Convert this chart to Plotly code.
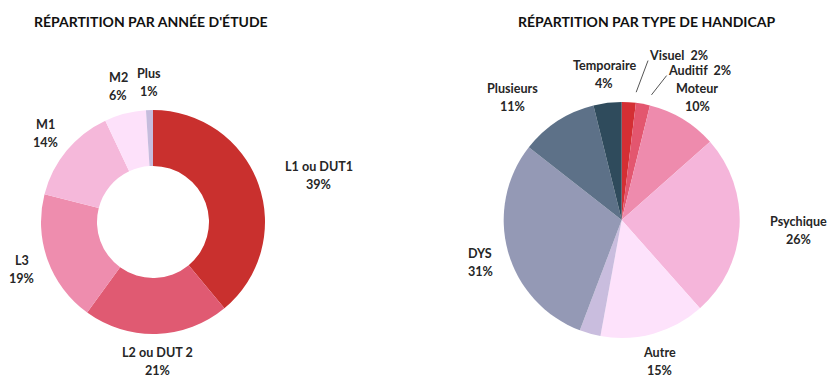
import math
import plotly.graph_objects as go

W, H = 829, 377

# ---- data ---------------------------------------------------------------
annee_labels = ["L1 ou DUT1", "L2 ou DUT 2", "L3", "M1", "M2", "Plus"]
annee_values = [39, 21, 19, 14, 6, 1]
annee_colors = ["#C9302E", "#E05A72", "#EE8DAE", "#F5B8DA", "#FDE1FA", "#C6BCDD"]

handicap_labels = ["Visuel", "Auditif", "Moteur", "Psychique", "Autre", "",
                   "DYS", "Plusieurs", "Temporaire"]
handicap_values = [2, 2, 10, 26, 15, 3, 31, 11, 4]
handicap_colors = ["#D42F34", "#E3566F", "#EE8BAD", "#F5B5DA", "#FDE2FB",
                   "#C9BDDE", "#9499B5", "#5D7188", "#2F4B5C"]

# ---- layout of the two pies (pixels) -------------------------------------
LEFT = dict(cx=153, cy=222, r=112)
RIGHT = dict(cx=621.7, cy=220, r=118)

# label placement: (radial factor, angle shift in degrees) per slice
annee_label_pos = [(1.54, 4), (1.245, 0), (1.245, 0), (1.245, 0), (1.245, 0), (1.25, 0)]
handicap_label_pos = [(1.41, 5.3), (1.32, 6.0), (1.22, 0.5), (1.505, 0), (1.24, 0.7),
                      None, (1.25, -1), (1.39, -9), (1.24, 0)]
# slices whose label sits away from the pie with a leader line
leader_slices = {0, 1}

LABEL_FONT = dict(family="Lato", size=12.6, color="#262626")
TITLE_FONT = dict(family="Lato", size=14, color="#111111")


def paper(x, y):
    return x / W, 1 - y / H


def domain(g):
    x0, y1 = paper(g["cx"] - g["r"], g["cy"] - g["r"])
    x1, y0 = paper(g["cx"] + g["r"], g["cy"] + g["r"])
    return dict(x=[x0, x1], y=[y0, y1])


def polar(g, angle_deg, factor):
    a = math.radians(angle_deg)
    return (g["cx"] + factor * g["r"] * math.sin(a),
            g["cy"] - factor * g["r"] * math.cos(a))


def mid_angles(values):
    total = sum(values)
    out, cum = [], 0
    for v in values:
        out.append((cum + v / 2) / total * 360)
        cum += v
    return out


fig = go.Figure()

fig.add_trace(go.Pie(
    labels=annee_labels, values=annee_values, hole=0.5, sort=False,
    direction="clockwise", rotation=0, domain=domain(LEFT),
    marker=dict(colors=annee_colors, line=dict(width=0)),
    textinfo="none", showlegend=False,
))
fig.add_trace(go.Pie(
    labels=[l if l else " " for l in handicap_labels], values=handicap_values,
    sort=False, direction="clockwise", rotation=0, domain=domain(RIGHT),
    marker=dict(colors=handicap_colors, line=dict(width=0)),
    textinfo="none", showlegend=False,
))

annotations = []
shapes = []


def add_text(x, y, text, font, xanchor="center"):
    px, py = paper(x, y)
    annotations.append(dict(x=px, y=py, xref="paper", yref="paper",
                            text=f"<b>{text}</b>", showarrow=False,
                            font=font, xanchor=xanchor, yanchor="middle"))


def label_pie(g, labels, values, positions, leaders=()):
    mids = mid_angles(values)
    for i, (lab, val, pos) in enumerate(zip(labels, values, positions)):
        if pos is None or not lab:
            continue
        factor, shift = pos
        x, y = polar(g, mids[i] + shift, factor)
        if i in leaders:
            add_text(x, y, f"{lab}  {val}%", LABEL_FONT, xanchor="left")
            sx, sy = polar(g, mids[i] + 3, 1.09)
            x0, y0 = paper(sx, sy)
            x1, y1 = paper(x + 1, y + 5)
            shapes.append(dict(type="line", xref="paper", yref="paper",
                               x0=x0, y0=y0, x1=x1, y1=y1,
                               line=dict(color="#555555", width=1)))
        else:
            add_text(x, y - 9, lab, LABEL_FONT)
            add_text(x, y + 9, f"{val}%", LABEL_FONT)


label_pie(LEFT, annee_labels, annee_values, annee_label_pos)
label_pie(RIGHT, handicap_labels, handicap_values, handicap_label_pos, leader_slices)

add_text(151, 21, "RÉPARTITION PAR ANNÉE D'ÉTUDE", TITLE_FONT)
add_text(646, 21, "RÉPARTITION PAR TYPE DE HANDICAP", TITLE_FONT)

fig.update_layout(
    width=W, height=H,
    margin=dict(l=0, r=0, t=0, b=0),
    paper_bgcolor="white", plot_bgcolor="white",
    annotations=annotations, shapes=shapes,
)

fig.write_html("out.html", config={"displayModeBar": False})
